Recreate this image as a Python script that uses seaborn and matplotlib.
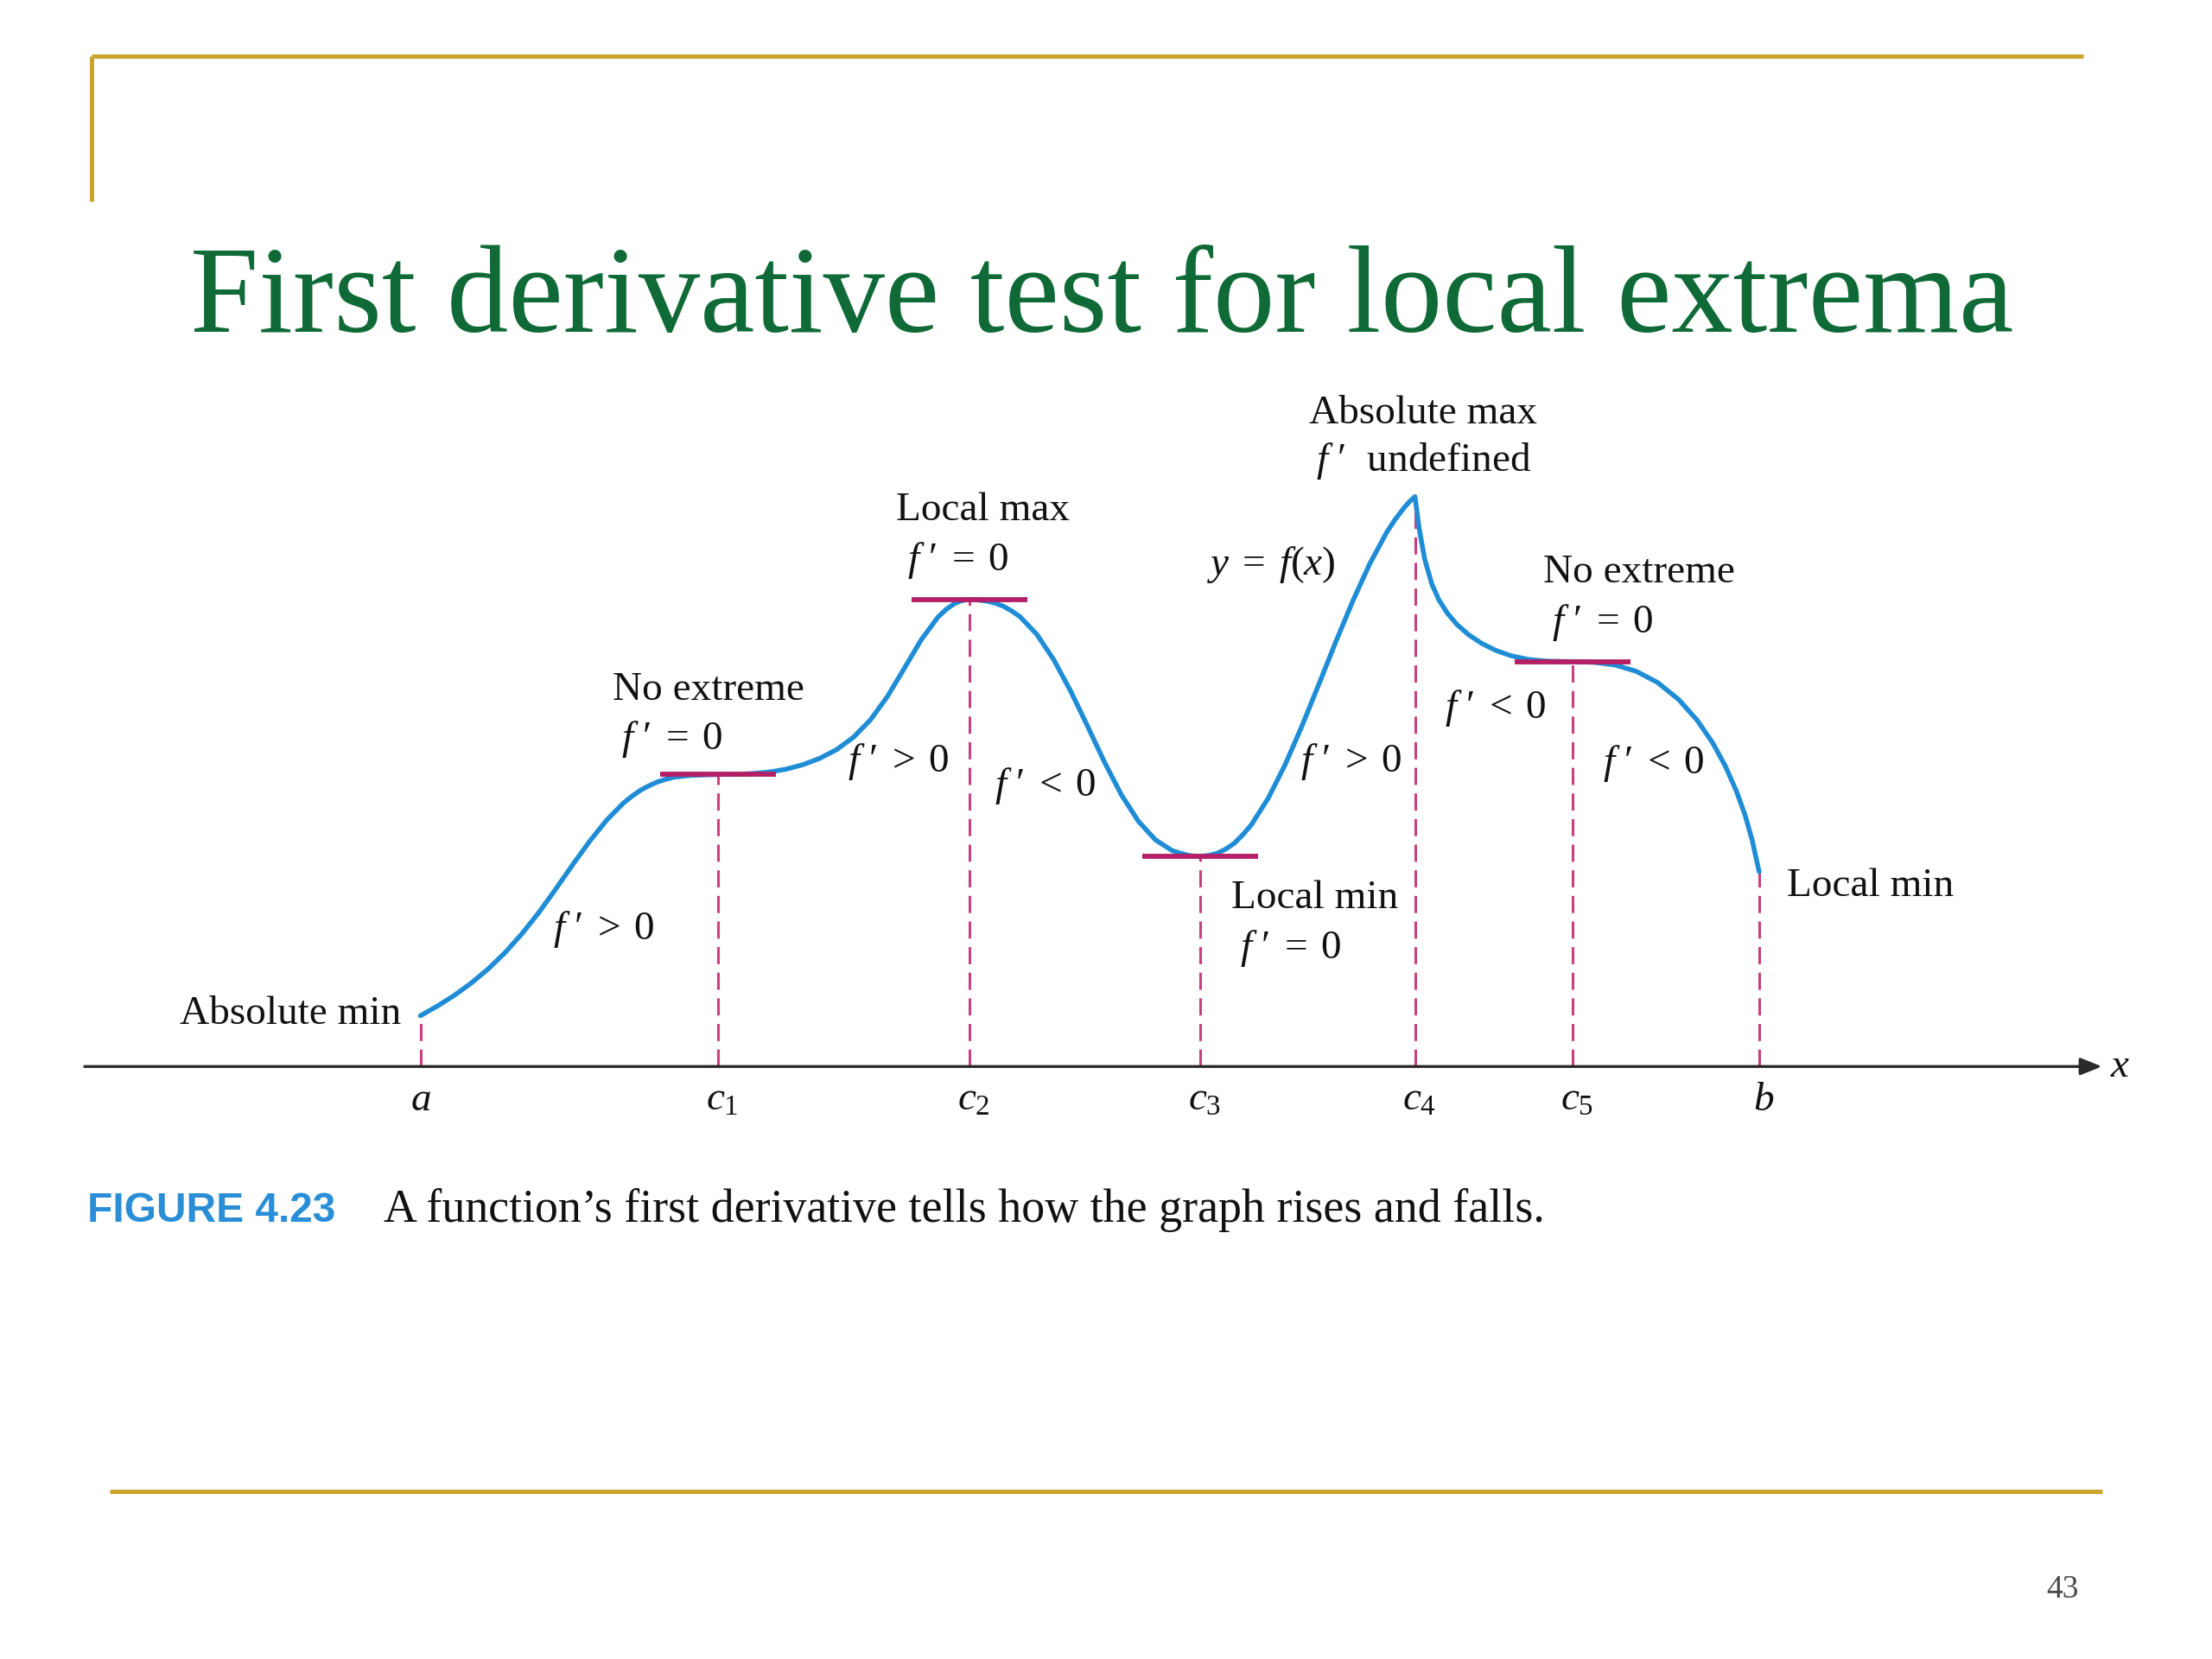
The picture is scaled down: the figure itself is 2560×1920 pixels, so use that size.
import matplotlib
matplotlib.use("Agg")
import matplotlib.pyplot as plt
import seaborn as sns
import pandas as pd

# ---------------- data ----------------
point_names = ["a", "c1", "c2", "c3", "c4", "c5", "b"]
point_labels = [r"$a$", r"$c_1$", r"$c_2$", r"$c_3$", r"$c_4$", r"$c_5$", r"$b$"]
point_x = [298, 509, 687, 851, 1003, 1115, 1247]
point_h = [36, 207, 331, 149, 404, 287, 138]
tangent_points = ["c1", "c2", "c3", "c5"]

curve_x = [298, 310, 322, 334, 346, 358, 370, 382, 394, 406, 418, 430, 442, 448, 454,
           460, 466, 472, 478, 490, 509,
           521, 533, 545, 557, 569, 581, 593, 605, 617, 629, 641, 653, 665, 671, 677,
           682, 687,
           693, 699, 705, 711, 717, 723, 735, 747, 759, 771, 783, 795, 807, 819, 831,
           837, 843, 847, 851,
           857, 863, 869, 875, 881, 887, 899, 911, 923, 935, 947, 959, 971, 983, 989,
           995, 999, 1003,
           1006, 1010, 1015, 1020, 1026, 1033, 1041, 1050, 1060, 1071, 1083, 1097, 1115,
           1130, 1145, 1160, 1175, 1190, 1203, 1214, 1223, 1231, 1237, 1242, 1247]
curve_h = [36, 42.8, 50.4, 59.1, 69.1, 80.7, 94.1, 109.2, 125.9, 143.1, 159.7, 174.6,
           186.8, 191.6, 195.8, 199.0, 201.7, 203.6, 205.1, 206.4, 207,
           207.1, 207.6, 208.7, 210.7, 213.9, 218.4, 224.6, 233.4, 245.7, 262.2, 282.2,
           302.5, 318.7, 324.3, 328.4, 330.3, 331,
           330.7, 330.0, 328.6, 326.4, 323.0, 318.9, 306.3, 288.3, 266.0, 241.1, 215.6,
           192.4, 173.8, 160.7, 153.0, 151.1, 149.6, 149.1, 149,
           149.6, 151.2, 154.2, 158.3, 164.3, 171.3, 190.2, 214.0, 241.6, 271.3, 301.3,
           330.1, 356.4, 378.7, 387.8, 395.7, 400.3, 404,
           381.2, 359.3, 341.9, 330.7, 321.3, 313.1, 306.1, 300.1, 295.1, 291.2, 288.6,
           287.3, 287,
           286.5, 284.6, 280.1, 272.2, 260.1, 245.5, 229.5, 213.0, 194.9, 178.2, 160.6, 138]

FP = r"$f$" + " \u2032"
EQ = "\u2004=\u20040"
GT = "\u2004>\u20040"
LT = "\u2004<\u20040"
label_texts = ["Absolute max", FP + "  undefined", "Local max", FP + EQ,
               r"$y$" + "\u2004=\u2004" + r"$f$($x$)", "No extreme", FP + EQ,
               "No extreme", FP + EQ, FP + GT, FP + LT,
               FP + GT, FP + LT, FP + LT,
               "Local min", FP + EQ, "Local min", FP + GT,
               "Absolute min"]
label_x = [1009, 1009, 697, 679, 901, 1162, 1136, 502, 476, 637, 741, 958, 1060,
           1172, 932, 915, 1326, 428, 206]
label_h = [463, 429, 394, 359, 356, 350, 315, 267, 232, 216, 199, 216, 254,
           215, 119, 84, 128, 97, 37]

title_text = "First derivative test for local extrema"
fig_tag = "FIGURE 4.23"
caption_text = "A function\u2019s first derivative tells how the graph rises and falls."
page_number = "43"

# ---------------- style ----------------
sns.set_theme(style="white")
plt.rcParams["font.family"] = ["Liberation Serif", "DejaVu Serif"]
plt.rcParams["mathtext.fontset"] = "custom"
plt.rcParams["mathtext.rm"] = "Liberation Serif"
plt.rcParams["mathtext.it"] = "Liberation Serif:italic"
plt.rcParams["mathtext.bf"] = "Liberation Serif:bold"

CURVE = "#1f8dd6"
DASH = "#c8407f"
TANG = "#b41f66"
AXIS = "#2a2a2a"
GOLD = "#c9a42a"
TITLE = "#0f6a37"
TAG = "#2a8ed6"

XMAX = 1568
YTOP = 756
YBOT = 756 - 1176

fig = plt.figure(figsize=(25.6, 19.2), dpi=100)
ax = fig.add_axes([0, 0, 1, 1])

# slide frame lines
ax.plot([65, 1477], [716, 716], color=GOLD, lw=3.6, solid_capstyle="butt")
ax.plot([65, 65], [716, 613], color=GOLD, lw=3.6, solid_capstyle="butt")
ax.plot([78, 1490], [-301, -301], color=GOLD, lw=3.6, solid_capstyle="butt")

# x axis with arrow
ax.annotate("", xy=(1490, 0), xytext=(60, 0),
            arrowprops=dict(arrowstyle="-|>,head_length=0.75,head_width=0.3",
                            lw=2.4, color=AXIS, mutation_scale=20,
                            shrinkA=0, shrinkB=0))
ax.text(1496, 0, r"$x$", fontsize=34, ha="left", va="center", color="#111111")

pts = pd.DataFrame({"name": point_names, "x": point_x, "h": point_h,
                    "label": point_labels})

# dashed verticals
ax.vlines(pts["x"], 0, pts["h"], colors=DASH, lw=2.2,
          linestyles=[(0, (6.5, 3.2))], zorder=2)

# curve
df = pd.DataFrame({"x": curve_x, "h": curve_h})
sns.lineplot(data=df, x="x", y="h", ax=ax, color=CURVE, lw=4.0,
             estimator=None, sort=False, zorder=3)
for ln in ax.get_lines()[-1:]:
    ln.set_solid_joinstyle("round")
    ln.set_solid_capstyle("round")

# horizontal tangents
half = 41
tp = pts[pts["name"].isin(tangent_points)]
ax.hlines(tp["h"], tp["x"] - half, tp["x"] + half, colors=TANG, lw=4.2, zorder=4)

ax.set_xlim(0, XMAX)
ax.set_ylim(YBOT, YTOP)
ax.axis("off")

# tick labels
for _, r in pts.iterrows():
    ax.text(r["x"] + (3 if r["name"] != "a" else 0), -24, r["label"], fontsize=34,
            ha="center", va="center", color="#111111")

# annotations
for t, x, h in zip(label_texts, label_x, label_h):
    ax.text(x, h, t, fontsize=34, ha="center", va="center", color="#111111")

# title and caption
title = ax.text(781, 521, title_text, fontsize=103, color=TITLE,
                ha="center", va="baseline")
tag = ax.text(62, -110, fig_tag, fontsize=40, color=TAG, fontweight="bold",
              family=["Liberation Sans", "DejaVu Sans"],
              ha="left", va="baseline")
cap = ax.text(272, -110, caption_text, fontsize=34, color="#111111",
              ha="left", va="baseline")
ax.text(1462, -371, page_number, fontsize=27, color="#4a4a4a",
        ha="center", va="center")

fig.canvas.draw()
renderer = fig.canvas.get_renderer()
px_per_unit = ax.transData.transform((1, 0))[0] - ax.transData.transform((0, 0))[0]


def fit(t, target):
    w = t.get_window_extent(renderer).width / px_per_unit
    t.set_fontsize(t.get_fontsize() * target / w)


fit(title, 1292)
fit(tag, 176)
fit(cap, 825)

fig.savefig("out.png", dpi=100, facecolor="white")
